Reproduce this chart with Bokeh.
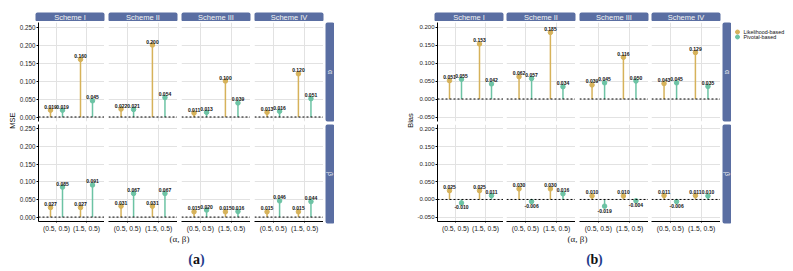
import math
from bokeh.plotting import figure
from bokeh.layouts import row, column
from bokeh.models import (ColumnDataSource, Range1d, FactorRange, FixedTicker,
                          PrintfTickFormatter, Span)
from bokeh.transform import dodge
from bokeh.core.properties import value, field
from bokeh.embed import file_html
from bokeh.resources import INLINE

# ---------------- data ----------------
schemes = ["Scheme I", "Scheme II", "Scheme III", "Scheme IV"]
params = ["α", "β"]
settings = ["(0.5, 0.5)", "(1.5, 0.5)"]
methods = ["Likelihood-based", "Pivotal-based"]
x_title = "(α, β)"

mse_ticks = [0.0, 0.05, 0.10, 0.15, 0.20, 0.25]
bias_ticks = [-0.05, 0.0, 0.05, 0.10, 0.15, 0.20]

# order: Scheme I (0.5,0.5), Scheme I (1.5,0.5), Scheme II ..., Scheme IV (1.5,0.5)
mse_alpha_lik = [0.019, 0.160, 0.022, 0.200, 0.011, 0.100, 0.013, 0.120]
mse_alpha_piv = [0.019, 0.045, 0.021, 0.054, 0.013, 0.039, 0.016, 0.051]
mse_beta_lik = [0.027, 0.027, 0.031, 0.031, 0.015, 0.015, 0.015, 0.015]
mse_beta_piv = [0.085, 0.091, 0.067, 0.067, 0.020, 0.016, 0.046, 0.044]

bias_alpha_lik = [0.051, 0.153, 0.062, 0.185, 0.039, 0.116, 0.043, 0.129]
bias_alpha_piv = [0.055, 0.042, 0.057, 0.034, 0.045, 0.050, 0.045, 0.035]
bias_beta_lik = [0.025, 0.025, 0.030, 0.030, 0.010, 0.010, 0.011, 0.011]
bias_beta_piv = [-0.010, 0.011, -0.006, 0.016, -0.019, -0.004, -0.006, 0.010]

# ---------------- style ----------------
GOLD = "#D6B25A"
TEAL = "#6CC3A4"
STRIP = "#5A6EA2"
GRID = "#E2E2E2"
SANS = "Liberation Sans"
SERIF = "Liberation Serif"
NAVY = "#1F3C8C"
BOTTOM = 270


def fig_base(width, height, bl, bt, bb, **kw):
    p = figure(width=width, height=height, output_backend="svg", toolbar_location=None,
               min_border_left=bl, min_border_right=0, min_border_top=bt,
               min_border_bottom=bb, **kw)
    p.outline_line_color = None
    p.background_fill_color = "white"
    p.border_fill_color = "white"
    return p


def canvas(x0, x1, y0, y1):
    # decoration canvas in page pixel coordinates (y grows downward)
    return fig_base(x1 - x0, y1 - y0, 0, 0, 0,
                    x_range=Range1d(x0, x1), y_range=Range1d(y1, y0),
                    x_axis_type=None, y_axis_type=None)


def facet(lik, piv, s, yrange, yticks, first, bottom, bl, tick_fs, fw=69):
    bb = 11 if bottom else 2
    h = 1 + 99 + bb
    p = fig_base(bl + fw, h, bl, 1, bb,
                 x_range=FactorRange(factors=settings, range_padding=0.1),
                 y_range=Range1d(*yrange))
    p.xgrid.grid_line_color = GRID
    p.ygrid.grid_line_color = GRID
    p.ygrid.ticker = FixedTicker(ticks=yticks)
    p.yaxis.ticker = FixedTicker(ticks=yticks)
    ya = p.yaxis[0]
    if first:
        ya.formatter = PrintfTickFormatter(format="%.3f")
        ya.axis_line_color = "black"
        ya.axis_line_width = 1
        ya.major_tick_line_color = "black"
        ya.major_tick_out = 2
        ya.major_tick_in = 0
        ya.minor_tick_line_color = None
        ya.major_label_text_font = SANS
        ya.major_label_text_font_size = tick_fs
        ya.major_label_text_color = "#222222"
        ya.major_label_standoff = 1
    else:
        ya.visible = False
    xa = p.xaxis[0]
    if bottom:
        xa.axis_line_color = "black"
        xa.axis_line_width = 1.2
        xa.major_tick_line_color = "black"
        xa.major_tick_out = 1
        xa.major_tick_in = 0
        xa.minor_tick_line_color = None
        xa.major_label_text_font = SANS
        xa.major_label_text_font_size = "6.8px"
        xa.major_label_text_color = "#222222"
        xa.major_label_standoff = 2
        xa.major_label_orientation = "horizontal"
    else:
        xa.visible = False

    for vals, col, off in ((lik, GOLD, -0.2), (piv, TEAL, 0.2)):
        v = vals[2 * s:2 * s + 2]
        src = ColumnDataSource(dict(
            setting=settings, value=v,
            label=[f"{x:.3f}" for x in v],
            base=["bottom" if x >= 0 else "top" for x in v],
            yoff=[-1.5 if x >= 0 else 2.5 for x in v]))
        xs = dodge("setting", off, range=p.x_range)
        p.segment(x0=xs, y0=0, x1=xs, y1="value", source=src,
                  line_color=col, line_width=1.5)
        p.scatter(x=xs, y="value", source=src, size=4.5,
                  fill_color=col, line_color=col)
        p.text(x=xs, y="value", text="label", source=src,
               text_align="center", text_baseline=field("base"),
               y_offset=field("yoff"), text_font=value(SANS),
               text_font_size="5px", text_font_style="bold",
               text_color="#111111")
    p.add_layout(Span(location=0, dimension="width", line_color="black",
                      line_width=1, line_dash="2 2"))
    return p


def build_panel(data, ylabel, yticks, yrange, x0, ylab_x1, bls, tick_fs,
                cap_letter, cap_x, xt_x, with_legend, x_end):
    frames = []
    cur = ylab_x1
    for bl in bls:
        frames.append((cur + bl, cur + bl + 69))
        cur = cur + bl + 69
    grid_end = cur
    strip_x0, strip_x1 = grid_end + 2, grid_end + 11

    # top strips
    ts = canvas(x0, x_end, 8, 21)
    ts.quad(left=[f[0] for f in frames], right=[f[1] for f in frames],
            top=[12] * 4, bottom=[21] * 4, fill_color=STRIP, line_color=None,
            border_radius=2)
    ts.text(x=[(f[0] + f[1]) / 2 for f in frames], y=[16.7] * 4, text=schemes,
            text_align="center", text_baseline="middle", text_font=value(SANS),
            text_font_size="7.5px", text_color="#F4F4F4")

    # y label
    yl = canvas(x0, ylab_x1, 21, 234)
    yl.text(x=[ylab_x1 - 4.5], y=[120], text=[ylabel], angle=math.pi / 2,
            text_align="center", text_baseline="middle", text_font=value(SANS),
            text_font_size="7.5px", text_color="#111111")

    # facets
    rows_ = []
    for pi, (lik, piv) in enumerate(data):
        figs = []
        for s in range(4):
            figs.append(facet(lik, piv, s, yrange, yticks, s == 0, pi == 1,
                              bls[s], tick_fs))
        rows_.append(row(*figs))
    grid = column(*rows_)

    # right strips
    rs = canvas(grid_end, strip_x1, 21, 234)
    rs.quad(left=[strip_x0] * 2, right=[strip_x1] * 2, top=[22, 124],
            bottom=[121, 223], fill_color=STRIP, line_color=None, border_radius=2)
    rs.text(x=[(strip_x0 + strip_x1) / 2] * 2, y=[71.5, 173.5], text=params,
            angle=-math.pi / 2, text_align="center", text_baseline="middle",
            text_font=value(SANS), text_font_size="7px", text_color="#F4F4F4")

    middle = [yl, grid, rs]
    if with_legend:
        lg = canvas(strip_x1, x_end, 21, 234)
        lsrc = ColumnDataSource(dict(x=[737, 737], y=[31.5, 36.5], label=methods,
                                     color=[GOLD, TEAL]))
        lg.scatter(x="x", y="y", source=lsrc, size=4, fill_color="color",
                   line_color="color")
        lg.text(x=743, y="y", text="label", source=lsrc, text_align="left",
                text_baseline="middle", text_font=value(SANS),
                text_font_size="5.4px", text_color="#111111")
        middle.append(lg)

    ft = canvas(x0, x_end, 234, BOTTOM)
    ft.text(x=[xt_x], y=[238.5], text=[x_title], text_align="center",
            text_baseline="middle", text_font=value(SERIF), text_font_size="9px",
            text_color="#222222")
    ft.text(x=[cap_x - 3.6], y=[258.5], text=["("], text_align="right",
            text_baseline="middle", text_font=value(SERIF), text_font_size="14px",
            text_font_style="bold", text_color=NAVY)
    ft.text(x=[cap_x], y=[258.5], text=[cap_letter], text_align="center",
            text_baseline="middle", text_font=value(SERIF), text_font_size="14px",
            text_font_style="bold", text_color="#111111")
    ft.text(x=[cap_x + 3.6], y=[258.5], text=[")"], text_align="left",
            text_baseline="middle", text_font=value(SERIF), text_font_size="14px",
            text_font_style="bold", text_color=NAVY)

    return column(ts, row(*middle), ft)


panel_a = build_panel([(mse_alpha_lik, mse_alpha_piv), (mse_beta_lik, mse_beta_piv)],
                      "MSE", mse_ticks, (-0.0125, 0.2625), 8, 16, [19, 4, 4, 4],
                      "6.3px", "a", 196, 179, False, 334)
panel_b = build_panel([(bias_alpha_lik, bias_alpha_piv), (bias_beta_lik, bias_beta_piv)],
                      "Bias", bias_ticks, (-0.0625, 0.2125), 334, 414, [20, 3, 4, 3],
                      "6px", "b", 594, 577, True, 785)

root = row(panel_a, panel_b, margin=(8, 0, 0, 8))
open("out.html", "w").write(file_html(root, INLINE))
